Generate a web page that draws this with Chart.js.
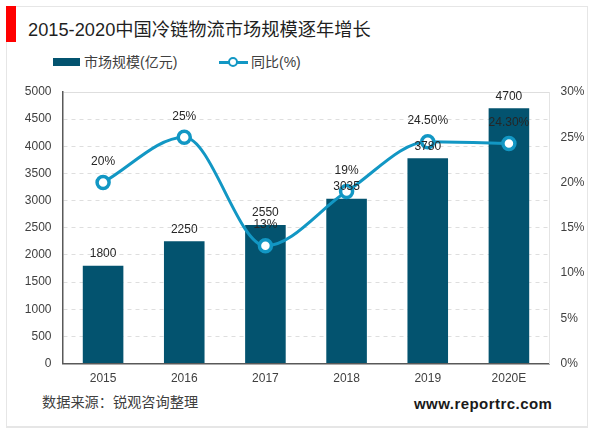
<!DOCTYPE html>
<html>
<head>
<meta charset="utf-8">
<script src="https://cdn.jsdelivr.net/npm/chart.js@4/dist/chart.umd.min.js"></script>
<style>
  html, body { margin: 0; padding: 0; background: #fff; }
  body { width: 600px; height: 433px; position: relative; overflow: hidden;
         font-family: "Liberation Sans", "Noto Sans CJK SC", sans-serif; color: #262626; }
  #frame { position: absolute; left: 6px; top: 6px; width: 582px; height: 422px; border: 1px solid #e6e6e6; border-bottom-width: 2px; box-sizing: border-box; }
  #flag { position: absolute; left: 6px; top: 6px; width: 10px; height: 36px; background: #ff0000; }
  #title { position: absolute; left: 28px; top: 18px; font-size: 18.25px; line-height: 24px; color: #1f1f1f; white-space: nowrap; }
  .leg { position: absolute; top: 53px; font-size: 14px; line-height: 18px; color: #404040; white-space: nowrap; }
  #swBar { position: absolute; left: 53px; top: 58px; width: 27px; height: 8px; background: #03536f; }
  #swLine { position: absolute; left: 219px; top: 60.5px; width: 29px; height: 3px; background: #1297c4; }
  #swDot { position: absolute; left: 228px; top: 57px; width: 10px; height: 10px; box-sizing: border-box; border: 2.5px solid #1297c4; border-radius: 50%; background: #fff; }
  #source { position: absolute; left: 42px; top: 392px; font-size: 14.2px; line-height: 20px; color: #404040; white-space: nowrap; }
  #site { position: absolute; left: 414px; top: 394px; font-size: 15px; line-height: 20px; font-weight: bold; color: #1a1a1a; letter-spacing: 0.45px; white-space: nowrap; }
  canvas { position: absolute; left: 0; top: 0; }
</style>
</head>
<body>
<div id="frame"></div>
<div id="flag"></div>
<div id="title">2015-2020中国冷链物流市场规模逐年增长</div>
<div id="swBar"></div>
<div class="leg" style="left:84px">市场规模(亿元)</div>
<div id="swLine"></div>
<div id="swDot"></div>
<div class="leg" style="left:251px">同比(%)</div>
<div id="source">数据来源：锐观咨询整理</div>
<div id="site">www.reportrc.com</div>
<canvas id="chart" width="600" height="433"></canvas>
<script>
const YEARS = ["2015","2016","2017","2018","2019","2020E"];
const MARKET = [1800,2250,2550,3035,3780,4700];
const GROWTH = [20,25,13,19,24.5,24.3];
const GROWTH_LABELS = ["20%","25%","13%","19%","24.50%","24.30%"];

// value labels on top of bars and points
const valueLabels = {
  id: "valueLabels",
  afterDatasetsDraw(chart) {
    const ctx = chart.ctx;
    ctx.save();
    ctx.font = '12px "Liberation Sans"';
    ctx.fillStyle = "#262626";
    ctx.textAlign = "center";
    ctx.textBaseline = "bottom";
    chart.getDatasetMeta(1).data.forEach((b, i) => ctx.fillText(MARKET[i], b.x, b.y - 6));
    chart.getDatasetMeta(0).data.forEach((p, i) => ctx.fillText(GROWTH_LABELS[i], p.x, p.y - 15));
    ctx.restore();
  }
};

new Chart(document.getElementById("chart"), {
  type: "bar",
  data: {
    labels: YEARS,
    datasets: [
      { type: "line", data: GROWTH, yAxisID: "y2", order: 0, borderColor: "#1297c4", borderWidth: 3,
        cubicInterpolationMode: "monotone", pointRadius: 6, pointBorderWidth: 3.5, pointBackgroundColor: "#fff", pointBorderColor: "#1297c4" },
      { type: "bar", data: MARKET, yAxisID: "y", order: 1, backgroundColor: "#03536f", categoryPercentage: 1, barPercentage: 0.5 }
    ]
  },
  options: {
    responsive: false, animation: false, devicePixelRatio: 1,
    layout: { padding: { top: 92, left: 0, right: 0, bottom: 0 } },
    plugins: { legend: { display: false }, tooltip: { enabled: false } },
    scales: {
      x: {
        afterFit: s => { s.height = 69.5; },
        grid: { display: false },
        border: { color: "#595959", width: 1.5 },
        ticks: { color: "#404040", font: { family: "Liberation Sans", size: 12 }, padding: 0, maxRotation: 0 }
      },
      y: {
        min: 0, max: 5000,
        afterFit: s => { s.width = 62.5; },
        grid: { color: "#dedede", drawTicks: false },
        border: { color: "#595959", width: 1.5, dash: c => (c.tick && c.tick.value === 5000 ? [] : [4, 4]) },
        ticks: { stepSize: 500, callback: v => String(v), color: "#404040", font: { family: "Liberation Sans", size: 12 }, padding: 11 }
      },
      y2: {
        position: "right", min: 0, max: 30,
        afterFit: s => { s.width = 50.5; },
        grid: { drawOnChartArea: false, drawTicks: false },
        border: { color: "#e4e4e4" },
        ticks: { stepSize: 5, callback: v => v + "%", color: "#404040", font: { family: "Liberation Sans", size: 12 }, padding: 11 }
      }
    }
  },
  plugins: [valueLabels]
});
</script>
</body>
</html>
